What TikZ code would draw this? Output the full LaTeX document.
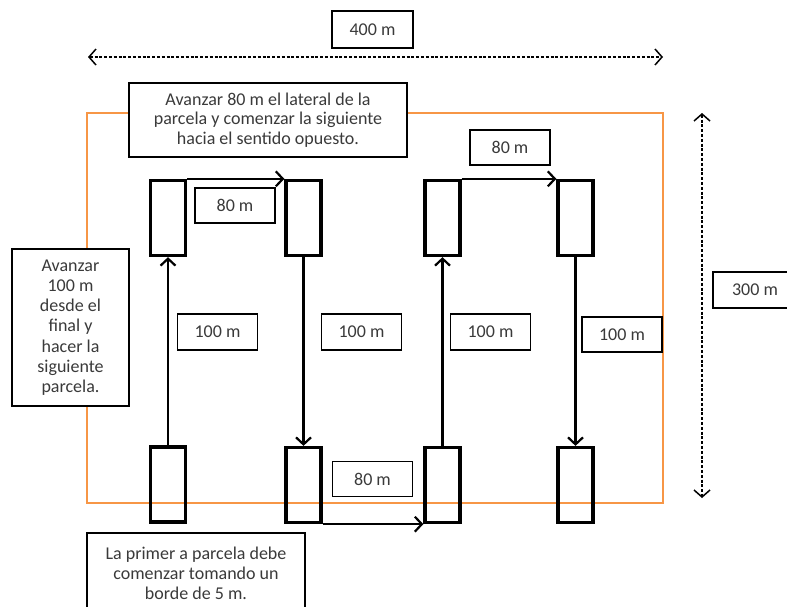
\documentclass[tikz,border=0pt]{standalone}
\usepackage{fontspec}
\setmainfont{Carlito}
\usetikzlibrary{arrows.meta}
\definecolor{orng}{HTML}{F79646}
\definecolor{txt}{HTML}{3A3A3A}
\begin{document}
\begin{tikzpicture}[x=1pt,y=-1pt,
  parcel/.style={draw=black,line width=3.3pt,minimum width=35pt,minimum height=75pt,inner sep=0pt},
  lbl/.style={draw=black,line width=1.4pt,fill=white,text=txt,inner sep=0pt,
    minimum width=80pt,minimum height=35pt,font=\fontsize{18}{19.5}\selectfont,align=center},
  flow/.style={draw=black,line width=2.2pt,-{Straight Barb[length=7pt,width=15pt,line width=2.2pt]}},
  dim/.style={draw=black,line width=1.5pt,dash pattern=on 3pt off 1.8pt,
    {Straight Barb[length=7pt,width=16pt,line width=1.5pt]}-{Straight Barb[length=7pt,width=16pt,line width=1.5pt]}}
]
\useasboundingbox (0,0) rectangle (787,606);
\clip (0,0) rectangle (787,606);
\fill[white] (0,0) rectangle (787,606);

% field boundary
\draw[orng,line width=2.8pt] (87,113) rectangle (663,503);

% parcels
\node[parcel] (t1) at (168,218) {};
\node[parcel] (t2) at (303.5,218) {};
\node[parcel] (t3) at (442.5,218) {};
\node[parcel] (t4) at (575.5,218) {};
\node[parcel] (b1) at (168,484.5) {};
\node[parcel] (b2) at (303.5,485) {};
\node[parcel] (b3) at (442.5,485) {};
\node[parcel] (b4) at (575.5,485) {};

% route
\draw[flow] (b1.north) -- (t1.south);
\draw[flow] (t1.north east) -- (t2.north west);
\draw[flow] (t2.south) -- (b2.north);
\draw[flow] (b2.south east) -- (b3.south west);
\draw[flow] (b3.north) -- (t3.south);
\draw[flow] (t3.north east) -- (t4.north west);
\draw[flow] (t4.south) -- (b4.north);

% dimension arrows
\coordinate (hl) at (88,57);
\coordinate (hr) at (663,57);
\coordinate (vt) at (702,113);
\coordinate (vb) at (702,498);
\draw[dim] (hl) -- (hr);
\draw[dim] (vt) -- (vb);

% labels
\node[lbl,minimum width=81pt,minimum height=37pt] (l400) at (372.5,29.5) {400 m};
\node[lbl,minimum width=84pt,minimum height=36pt] (l300) at (755,290) {300 m};
\node[lbl] (l80a) at (235,205.5) {80 m};
\node[lbl] (l80b) at (510,147.5) {80 m};
\node[lbl] (l80c) at (372.5,479) {80 m};
\node[lbl,minimum height=36pt] (l100a) at (217.5,332) {100 m};
\node[lbl,minimum height=36pt] (l100b) at (361.5,332) {100 m};
\node[lbl,minimum height=36pt] (l100c) at (490.5,332) {100 m};
\node[lbl] (l100d) at (622,334.5) {100 m};

\node[lbl,minimum width=278pt,minimum height=74pt] (ntop) at (268,120)
  {Avanzar 80 m el lateral de la\\parcela y comenzar la siguiente\\hacia el sentido opuesto.};
\node[lbl,minimum width=117pt,minimum height=157pt,font=\fontsize{18}{20.2}\selectfont] (nleft) at (70.5,327.5)
  {Avanzar\\100 m\\desde el\\final y\\hacer la\\siguiente\\parcela.};
\node[lbl,minimum width=218pt,minimum height=80pt,font=\fontsize{18}{20}\selectfont] (nbot) at (196,573)
  {La primer a parcela debe\\comenzar tomando un\\borde de 5 m.};
\end{tikzpicture}
\end{document}
